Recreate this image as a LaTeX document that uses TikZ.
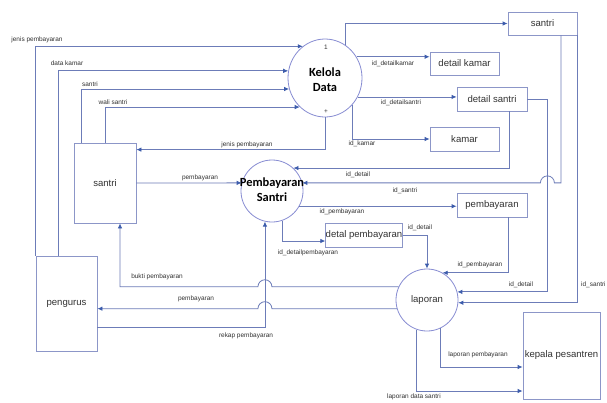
\documentclass[tikz,border=0pt]{standalone}
\usepackage{fontspec}
\setmainfont{Liberation Sans}
\newfontfamily\calib{Carlito}
\usetikzlibrary{arrows.meta,shapes.geometric,calc}
\definecolor{linec}{RGB}{108,124,184}
\definecolor{arrc}{RGB}{60,92,172}
\definecolor{boxc}{RGB}{140,150,200}
\definecolor{circc}{RGB}{135,140,210}
\definecolor{txtc}{RGB}{50,50,50}
\begin{document}
\begin{tikzpicture}[x=1bp,y=-1bp,
 flow/.style={draw=linec,line width=0.8bp,-{Latex[length=5bp,width=4.5bp,color=arrc]}},
 lbl/.style={font=\fontsize{6.5}{7}\selectfont,text=txtc,inner sep=0},
 store/.style={draw=boxc,line width=0.8bp,fill=white,inner sep=0,font=\fontsize{9.6}{11}\selectfont,text=txtc},
 proc/.style={draw=circc,line width=0.8bp,fill=white,inner sep=0},
 ptitle/.style={font=\fontsize{12.5}{15}\calib\bfseries,align=center,text=black,inner sep=0},
 ]
\fill[white] (0,0) rectangle (607,402);
\useasboundingbox (0,0) rectangle (607,402);
\clip (0,0) rectangle (607,402);

% stores / entities
\node[store,minimum width=69bp,minimum height=23bp] (st) at (542.5,23.5) {santri};
\node[store,minimum width=69bp,minimum height=23bp] (dk) at (464.5,63.5) {detail kamar};
\node[store,minimum width=70bp,minimum height=24bp] (ds) at (492,99) {detail santri};
\node[store,minimum width=69bp,minimum height=24bp] (km) at (464.5,139) {kamar};
\node[store,minimum width=70bp,minimum height=24bp] (pb) at (492,205) {pembayaran};
\node[store,minimum width=76bp,minimum height=24bp] (dp) at (364,235) {detal pembayaran};
\node[store,minimum width=62bp,minimum height=80bp] (sl) at (105,183) {santri};
\node[store,minimum width=61bp,minimum height=95bp] (pg) at (66.5,303.5) {pengurus};
\node[store,minimum width=77bp,minimum height=87bp] (kp) at (561.5,355.5) {kepala pesantren};

% processes
\node[proc,ellipse,minimum width=74bp,minimum height=78bp] (kd) at (325,78) {};
\node[ptitle] (kdt) at (325,80) {Kelola\\Data};
\node[lbl] (kd1) at (326,47) {1};
\node[lbl] (kdp) at (326,112) {+};
\node[proc,circle,minimum size=62bp] (ps) at (272,191) {};
\node[ptitle] (pst) at (272,190) {Pembayaran\\Santri};
\node[proc,circle,minimum size=62bp,font=\fontsize{9.6}{11}\selectfont,text=txtc] (lp) at (427,300) {laporan};

\coordinate (v1) at ($(ds.east)+(20,0)$);

% inputs to Kelola Data
\draw[flow] (pg.north west) |- (kd.125.9);
\draw[flow] ($(pg.north west)+(23,0)$) |- (kd.169.1);
\draw[flow] ($(sl.north west)+(8,0)$) |- (kd.197.2);
\draw[flow] (sl.north) |- (kd.229.6);

% outputs of Kelola Data
\draw[flow] (kd.58.6) |- (st.west);
\draw[flow] (kd.34) -- (kd.34 -| dk.west);
\draw[flow] (kd.-30.5) -- (kd.-30.5 -| ds.west);
\draw[flow] (kd.-44.7) |- (km.west);
\draw[flow] (kd.south) |- ($(sl.north east)+(0,7)$);

% Pembayaran Santri
\draw[flow] (sl.east) -- (ps.165);
\draw[flow] ($(ds.south)+(17,0)$) |- (ps.47.9);
\draw[flow] ($(st.south)+(18.5,0)$) |- ($(v1 |- ps.15)+(7,0)$) arc[start angle=0,end angle=180,radius=7bp] -- (ps.15);
\draw[flow] (ps.-29) -- (ps.-29 -| pb.west);
\draw[flow] (ps.-71.2) |- ($(dp.west)+(0,6)$);

% into laporan
\draw[flow] (dp.east) -| (lp.north);
\draw[flow] ($(pb.south)+(16,0)$) |- (lp.60.6);
\draw[flow] (ds.east) -- (v1) |- (lp.15);
\draw[flow] (st.south east) |- (lp.-5.5);

% laporan outputs
\draw[flow] (lp.155.2) -- ($(ps.257 |- lp.155.2)+(7,0)$) arc[start angle=0,end angle=180,radius=7bp] -| ($(sl.south)+(15,0)$);
\draw[flow] (lp.196.9) -- ($(ps.257 |- lp.196.9)+(7,0)$) arc[start angle=0,end angle=180,radius=7bp] -- (lp.196.9 -| pg.east);
\draw[flow] ($(pg.east)+(0,23.5)$) -| (ps.257);
\draw[flow] (lp.-65.2) |- ($(kp.west)+(0,11.5)$);
\draw[flow] (lp.251.2) |- ($(kp.west)+(0,35.5)$);

% labels
\node[lbl] (t1) at (37,40) {jenis pembayaran};
\node[lbl] (t2) at (67,63) {data kamar};
\node[lbl] (t3) at (90,84) {santri};
\node[lbl] (t4) at (113,102) {wali santri};
\node[lbl] (t5) at (247,145) {jenis pembayaran};
\node[lbl] (t6) at (200,178) {pembayaran};
\node[lbl] (t7) at (393,64) {id\_detailkamar};
\node[lbl] (t8) at (401,103) {id\_detailsantri};
\node[lbl] (t9) at (362,144) {id\_kamar};
\node[lbl] (t10) at (358,175) {id\_detail};
\node[lbl] (t11) at (405,191) {id\_santri};
\node[lbl] (t12) at (342,212) {id\_pembayaran};
\node[lbl] (t13) at (308,253) {id\_detailpembayaran};
\node[lbl] (t14) at (420,228) {id\_detail};
\node[lbl] (t15) at (480,265) {id\_pembayaran};
\node[lbl] (t16) at (521,285) {id\_detail};
\node[lbl,anchor=west] (t17) at (581,285) {id\_santri};
\node[lbl] (t18) at (157,277) {bukti pembayaran};
\node[lbl] (t19) at (196,299) {pembayaran};
\node[lbl] (t20) at (246,336) {rekap pembayaran};
\node[lbl] (t21) at (478,355) {laporan pembayaran};
\node[lbl] (t22) at (414,397) {laporan data santri};
\end{tikzpicture}
\end{document}
